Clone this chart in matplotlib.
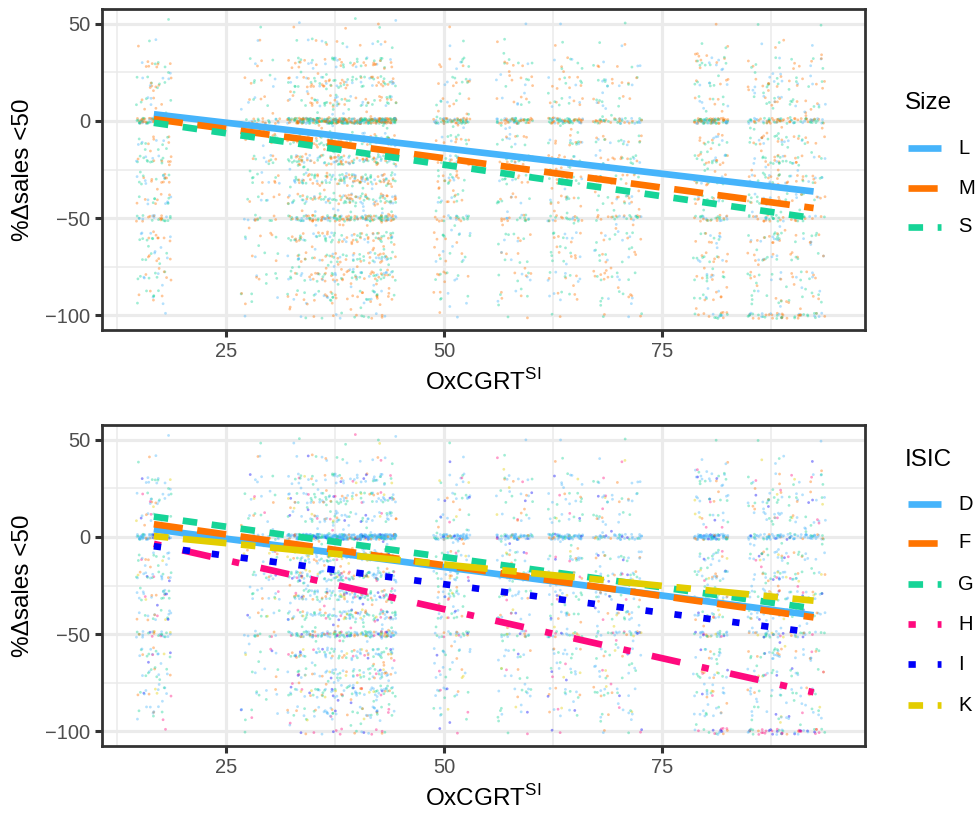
import numpy as np
import matplotlib
matplotlib.use("Agg")
import matplotlib.pyplot as plt
from matplotlib.lines import Line2D
from matplotlib.ticker import FixedLocator

plt.rcParams['font.family'] = ['Liberation Sans', 'DejaVu Sans']
plt.rcParams['mathtext.fontset'] = 'custom'
plt.rcParams['mathtext.rm'] = 'Liberation Sans'
plt.rcParams['lines.scale_dashes'] = False

# ---------------- data ----------------
# OxCGRT stringency columns of the scatter (centre, jitter half width, relative count)
x_cols = [16.7, 28.9, 33.9, 38.0, 42.4, 50.9, 58.1, 63.9, 69.9, 80.6, 86.8, 91.0]
x_half = [2.0, 2.3, 1.9, 2.1, 2.1, 2.1, 2.1, 2.0, 2.8, 2.0, 2.0, 2.8]
col_weight = [1.0, 0.5, 1.3, 1.9, 2.1, 0.8, 0.7, 0.8, 0.9, 1.0, 0.8, 0.9]
col_spread = [45, 25, 70, 95, 100, 45, 40, 45, 60, 55, 55, 65]
m100_weight = [0.1, 0.1, 0.2, 0.3, 0.3, 0.2, 0.2, 0.2, 0.5, 1.5, 2.5, 2.5]
zero_weight = [5.0, 4.0, 6.0, 6.0, 6.0, 6.5, 6.5, 6.5, 4.0, 8.0, 4.0, 4.0]
# %Δsales levels and their relative counts
y_levels = [50, 40, 30, 20, 10, 0, -10, -20, -30, -40, -50, -60, -70, -80, -90, -100]
level_weight = [0.1, 0.25, 0.6, 1.0, 0.8, 5.0, 1.2, 1.6, 1.6, 1.3, 2.2, 1.0, 0.8, 0.9, 0.6, 0.8]
spread_range = [-97, 35]

# fitted lines (value at x = 16.7 and x = 92.4)
line_x = [16.7, 92.4]
size_groups = ['L', 'M', 'S']
size_start = [3.4, 0.9, -1.0]
size_end = [-36.3, -44.8, -50.0]
isic_groups = ['D', 'F', 'G', 'H', 'I', 'K']
isic_start = [3.9, 6.5, 10.4, -3.6, -4.8, 0.4]
isic_end = [-40.3, -41.4, -36.8, -79.9, -49.2, -32.8]

# ---------------- styles ----------------
size_colors = ['#46B4FB', '#FF7400', '#16D497']
isic_colors = ['#46B4FB', '#FF7400', '#16D497', '#FF0A7E', '#0000F8', '#E3CD00']
U = 5.25
size_dash = [None, (4 * U, 2 * U), (2 * U, 2 * U)]
isic_dash = [None, (4 * U, 2 * U), (2 * U, 2 * U), (U, 3 * U, 4 * U, 3 * U), (U, 3 * U), (2 * U, 2 * U, 6 * U, 2 * U)]
LW = 4.8

top_mix = [2, 1, 0, 2, 1, 2, 0, 1, 2, 1, 2, 0, 1]
bot_mix = [0, 2, 0, 1, 2, 0, 4, 0, 2, 5, 0, 3, 2, 0, 1, 0, 2]
bot_zero = [0, 0, 0, 2, 0, 0, 0, 1, 0, 0, 4, 0, 0, 2, 0]
bot_m100 = [3, 4, 2, 0, 3, 1, 4, 3, 0, 2, 3]

SCALE = 12


def jit(k):
    # deterministic hash jitter offsets in [0, 1) (stands in for ggplot's jitter)
    u = (np.sin(k * 12.9898) * 43758.5453) % 1.0
    v = (np.sin(k * 78.233 + 1.7) * 24634.6345) % 1.0
    return u, v


def build_points():
    xs, ys, lv = [], [], []
    k = 1
    for i, xc in enumerate(x_cols):
        for j, yl in enumerate(y_levels):
            if yl == -100:
                w = m100_weight[i]
            elif yl == 0:
                w = zero_weight[i]
            else:
                w = level_weight[j]
            n = int(round(col_weight[i] * w * SCALE))
            yj = 1.4 if yl == 0 else (1.6 if yl in (-100, -50) else 2.6)
            for _ in range(n):
                u, v = jit(k)
                k += 1
                xs.append(xc + (2 * u - 1) * x_half[i])
                ys.append(yl + (2 * v - 1) * yj)
                lv.append(yl)
        for _ in range(col_spread[i]):
            u, v = jit(k)
            k += 1
            xs.append(xc + (2 * u - 1) * x_half[i])
            ys.append(spread_range[0] + (spread_range[1] - spread_range[0]) * v)
            lv.append(None)
    return xs, ys, lv


px, py, plv = build_points()

W, H = 976, 813
fig = plt.figure(figsize=(W / 100, H / 100), dpi=100)
fig.patch.set_facecolor('white')


def style_axes(ax):
    ax.set_xlim(10.75, 98.3)
    ax.set_ylim(-107.5, 57.5)
    ax.xaxis.set_major_locator(FixedLocator([25, 50, 75]))
    ax.xaxis.set_minor_locator(FixedLocator([12.5, 37.5, 62.5, 87.5]))
    ax.yaxis.set_major_locator(FixedLocator([-100, -50, 0, 50]))
    ax.yaxis.set_minor_locator(FixedLocator([-75, -25, 25]))
    ax.set_xticklabels(['25', '50', '75'])
    ax.set_yticklabels(['\u2212100', '\u221250', '0', '50'])
    ax.grid(which='major', color='#EBEBEB', lw=2.3)
    ax.grid(which='minor', color='#EBEBEB', lw=1.15)
    ax.set_axisbelow(True)
    ax.tick_params(which='major', length=5, width=2.2, color='#333333',
                   labelsize=14.5, labelcolor='#4D4D4D', pad=3.5)
    ax.tick_params(which='minor', length=0)
    for s in ax.spines.values():
        s.set_color('#333333')
        s.set_linewidth(2.0)
    ax.set_xlabel(r'OxCGRT$^{\rm SI}$', fontsize=17.5, color='black', labelpad=6)
    ax.set_ylabel('%\u0394sales <50', fontsize=17.5, color='black', labelpad=8)


def draw_line(ax, y0, y1, color, dash):
    ln = Line2D(line_x, [y0, y1], color=color, lw=LW, solid_capstyle='butt',
                dash_capstyle='butt')
    if dash is not None:
        ln.set_dashes(dash)
    ax.add_line(ln)


def legend(title, title_y, labels, colors, dashes, ys):
    fig.text(905 / W, 1 - title_y / H, title, fontsize=17.5, va='center', ha='left')
    for lab, c, d, y in zip(labels, colors, dashes, ys):
        ln = Line2D([908 / W, 941 / W], [1 - y / H, 1 - y / H], transform=fig.transFigure,
                    color=c, lw=LW, solid_capstyle='butt', dash_capstyle='butt')
        if d is not None:
            ln.set_dashes(d)
        fig.add_artist(ln)
        fig.text(958 / W, 1 - y / H, lab, fontsize=14.5, va='center', ha='left')


# ---------------- top panel ----------------
ax1 = fig.add_axes([102 / W, 1 - 330 / H, 763 / W, 321 / H])
style_axes(ax1)
c1 = [size_colors[top_mix[k % len(top_mix)]] for k in range(len(px))]
ax1.scatter(px, py, s=4.0, c=c1, alpha=0.4, linewidths=0)
for g, y0, y1, c, d in zip(size_groups, size_start, size_end, size_colors, size_dash):
    draw_line(ax1, y0, y1, c, d)
legend('Size', 103, size_groups, size_colors, size_dash, [148, 188, 227])

# ---------------- bottom panel ----------------
ax2 = fig.add_axes([102 / W, 1 - 746 / H, 763 / W, 321 / H])
style_axes(ax2)
c2 = []
for k, l in enumerate(plv):
    if l == 0:
        pat = bot_zero
    elif l == -100:
        pat = bot_m100
    else:
        pat = bot_mix
    c2.append(isic_colors[pat[k % len(pat)]])
ax2.scatter(px, py, s=4.0, c=c2, alpha=0.4, linewidths=0)
for g, y0, y1, c, d in zip(isic_groups, isic_start, isic_end, isic_colors, isic_dash):
    draw_line(ax2, y0, y1, c, d)
legend('ISIC', 460, isic_groups, isic_colors, isic_dash, [504, 543, 584, 624, 664, 705])

fig.savefig('out.png', dpi=100, facecolor='white')
